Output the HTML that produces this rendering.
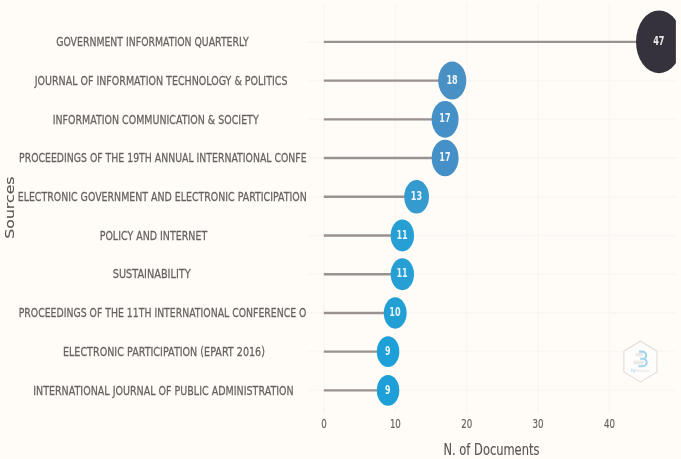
<!DOCTYPE html>
<html lang="en">
<head>
<meta charset="utf-8">
<title>Most Relevant Sources</title>
<style>
html,body{margin:0;padding:0;background:#fffcf8;}
body{width:681px;height:459px;overflow:hidden;}
svg{display:block;}
text{font-family:"DejaVu Sans", "Liberation Sans", sans-serif;}
.lab{font-size:13.0px;fill:#66625f;stroke:#66625f;stroke-width:0.28px;}
.tick{font-size:12.6px;fill:#66625f;stroke:#66625f;stroke-width:0.2px;}
.ttl{font-size:15.2px;fill:#595553;stroke:#595553;stroke-width:0.15px;}
.val{font-size:12.3px;font-weight:bold;fill:#ffffff;fill-opacity:0.9;}
</style>
</head>
<body>
<svg width="681" height="459" viewBox="0 0 681 459">
<defs>
<clipPath id="panel"><rect x="304.0" y="0" width="371.9" height="415.5"/></clipPath>
<filter id="soft" x="-5%" y="-5%" width="110%" height="110%"><feGaussianBlur stdDeviation="0.6"/></filter>
</defs>
<rect x="0" y="0" width="681" height="459" fill="#fffcf8"/>
<g filter="url(#soft)">

<g stroke="#fcf6f3" stroke-width="1.8" fill="none">
<line x1="324.00" y1="3.0" x2="324.00" y2="413.5"/>
<line x1="395.38" y1="3.0" x2="395.38" y2="413.5"/>
<line x1="466.75" y1="3.0" x2="466.75" y2="413.5"/>
<line x1="538.12" y1="3.0" x2="538.12" y2="413.5"/>
<line x1="609.50" y1="3.0" x2="609.50" y2="413.5"/>
<line x1="307.5" y1="41.80" x2="675.9" y2="41.80"/>
<line x1="307.5" y1="80.54" x2="675.9" y2="80.54"/>
<line x1="307.5" y1="119.28" x2="675.9" y2="119.28"/>
<line x1="307.5" y1="158.02" x2="675.9" y2="158.02"/>
<line x1="307.5" y1="196.76" x2="675.9" y2="196.76"/>
<line x1="307.5" y1="235.50" x2="675.9" y2="235.50"/>
<line x1="307.5" y1="274.24" x2="675.9" y2="274.24"/>
<line x1="307.5" y1="312.98" x2="675.9" y2="312.98"/>
<line x1="307.5" y1="351.72" x2="675.9" y2="351.72"/>
<line x1="307.5" y1="390.46" x2="675.9" y2="390.46"/>
</g>
<g stroke="#9a9290" stroke-width="2.3" fill="none">
<line x1="323.8" y1="41.80" x2="659.01" y2="41.80"/>
<line x1="323.8" y1="80.54" x2="452.24" y2="80.54"/>
<line x1="323.8" y1="119.28" x2="445.11" y2="119.28"/>
<line x1="323.8" y1="158.02" x2="445.11" y2="158.02"/>
<line x1="323.8" y1="196.76" x2="416.59" y2="196.76"/>
<line x1="323.8" y1="235.50" x2="402.33" y2="235.50"/>
<line x1="323.8" y1="274.24" x2="402.33" y2="274.24"/>
<line x1="323.8" y1="312.98" x2="395.20" y2="312.98"/>
<line x1="323.8" y1="351.72" x2="388.07" y2="351.72"/>
<line x1="323.8" y1="390.46" x2="388.07" y2="390.46"/>
</g>
<g clip-path="url(#panel)">
<ellipse cx="659.01" cy="41.80" rx="23.00" ry="31.40" fill="#35323a"/>
<ellipse cx="452.24" cy="80.54" rx="14.05" ry="19.05" fill="#4890c5"/>
<ellipse cx="445.11" cy="119.28" rx="13.45" ry="18.35" fill="#4490c6"/>
<ellipse cx="445.11" cy="158.02" rx="13.45" ry="18.35" fill="#4490c6"/>
<ellipse cx="416.59" cy="196.76" rx="12.40" ry="16.80" fill="#369bcf"/>
<ellipse cx="402.33" cy="235.50" rx="11.70" ry="15.90" fill="#279fd4"/>
<ellipse cx="402.33" cy="274.24" rx="11.70" ry="15.90" fill="#279fd4"/>
<ellipse cx="395.20" cy="312.98" rx="11.45" ry="15.65" fill="#20a0d6"/>
<ellipse cx="388.07" cy="351.72" rx="11.25" ry="15.40" fill="#1ba0d7"/>
<ellipse cx="388.07" cy="390.46" rx="11.25" ry="15.40" fill="#1ba0d7"/>
</g>
<text class="val" x="658.81" y="45.00" text-anchor="middle" textLength="11.3" lengthAdjust="spacingAndGlyphs">47</text>
<text class="val" x="452.04" y="83.74" text-anchor="middle" textLength="11.3" lengthAdjust="spacingAndGlyphs">18</text>
<text class="val" x="444.91" y="122.48" text-anchor="middle" textLength="11.3" lengthAdjust="spacingAndGlyphs">17</text>
<text class="val" x="444.91" y="161.22" text-anchor="middle" textLength="11.3" lengthAdjust="spacingAndGlyphs">17</text>
<text class="val" x="416.39" y="199.96" text-anchor="middle" textLength="11.3" lengthAdjust="spacingAndGlyphs">13</text>
<text class="val" x="402.13" y="238.70" text-anchor="middle" textLength="11.3" lengthAdjust="spacingAndGlyphs">11</text>
<text class="val" x="402.13" y="277.44" text-anchor="middle" textLength="11.3" lengthAdjust="spacingAndGlyphs">11</text>
<text class="val" x="395.00" y="316.18" text-anchor="middle" textLength="11.3" lengthAdjust="spacingAndGlyphs">10</text>
<text class="val" x="387.87" y="354.92" text-anchor="middle" textLength="5.5" lengthAdjust="spacingAndGlyphs">9</text>
<text class="val" x="387.87" y="393.66" text-anchor="middle" textLength="5.5" lengthAdjust="spacingAndGlyphs">9</text>
<text class="lab" x="56.20" y="46.05" textLength="192.50" lengthAdjust="spacingAndGlyphs">GOVERNMENT INFORMATION QUARTERLY</text>
<text class="lab" x="34.70" y="84.79" textLength="252.75" lengthAdjust="spacingAndGlyphs">JOURNAL OF INFORMATION TECHNOLOGY &amp; POLITICS</text>
<text class="lab" x="52.70" y="123.53" textLength="206.00" lengthAdjust="spacingAndGlyphs">INFORMATION COMMUNICATION &amp; SOCIETY</text>
<text class="lab" x="19.00" y="162.27" textLength="287.60" lengthAdjust="spacingAndGlyphs">PROCEEDINGS OF THE 19TH ANNUAL INTERNATIONAL CONFE</text>
<text class="lab" x="17.70" y="201.01" textLength="289.10" lengthAdjust="spacingAndGlyphs">ELECTRONIC GOVERNMENT AND ELECTRONIC PARTICIPATION</text>
<text class="lab" x="99.70" y="239.75" textLength="107.50" lengthAdjust="spacingAndGlyphs">POLICY AND INTERNET</text>
<text class="lab" x="112.70" y="278.49" textLength="78.00" lengthAdjust="spacingAndGlyphs">SUSTAINABILITY</text>
<text class="lab" x="18.70" y="317.23" textLength="287.75" lengthAdjust="spacingAndGlyphs">PROCEEDINGS OF THE 11TH INTERNATIONAL CONFERENCE O</text>
<text class="lab" x="62.95" y="355.97" textLength="202.00" lengthAdjust="spacingAndGlyphs">ELECTRONIC PARTICIPATION (EPART 2016)</text>
<text class="lab" x="33.20" y="394.71" textLength="260.50" lengthAdjust="spacingAndGlyphs">INTERNATIONAL JOURNAL OF PUBLIC ADMINISTRATION</text>
<text class="tick" x="324.00" y="428.0" text-anchor="middle" textLength="5.5" lengthAdjust="spacingAndGlyphs">0</text>
<text class="tick" x="395.38" y="428.0" text-anchor="middle" textLength="11.0" lengthAdjust="spacingAndGlyphs">10</text>
<text class="tick" x="466.75" y="428.0" text-anchor="middle" textLength="11.0" lengthAdjust="spacingAndGlyphs">20</text>
<text class="tick" x="538.12" y="428.0" text-anchor="middle" textLength="11.0" lengthAdjust="spacingAndGlyphs">30</text>
<text class="tick" x="609.50" y="428.0" text-anchor="middle" textLength="11.0" lengthAdjust="spacingAndGlyphs">40</text>
<text class="ttl" x="443.5" y="454.5" textLength="95.9" lengthAdjust="spacingAndGlyphs">N. of Documents</text>
<g transform="translate(13.8,238.7) scale(0.8,1.04) rotate(-90)"><text class="ttl" x="0" y="0" textLength="59.8" lengthAdjust="spacingAndGlyphs">Sources</text></g>
<g>
<polygon points="640.4,341.1 656.9,351.2 656.9,372.0 640.4,382.0 623.9,372.0 623.9,351.2" fill="#fffdfb" stroke="#e9e0de" stroke-width="1.3"/>
<rect x="635.3" y="353.0" width="8.1" height="3.4" rx="1.7" fill="#ebe8e8"/>
<rect x="633.2" y="360.8" width="10.8" height="3.7" rx="1.85" fill="#ebe8e8"/>
<path d="M639.0 351.6 h3.6 a3.6 3.6 0 0 1 0 7.2 h-2.4 h2.8 a3.7 3.7 0 0 1 0 7.4 h-4.6" fill="none" stroke="#a0d4ef" stroke-width="2.1"/>
<text x="631.0" y="372.4" font-size="5.2" font-style="italic" fill="#98d1ee" textLength="5.4" lengthAdjust="spacingAndGlyphs">by</text>
<text x="637.0" y="372.0" font-size="3.8" fill="#dcd8d8" textLength="12.5" lengthAdjust="spacingAndGlyphs">bliometrix</text>
</g>
</g>
</svg>
</body>
</html>
